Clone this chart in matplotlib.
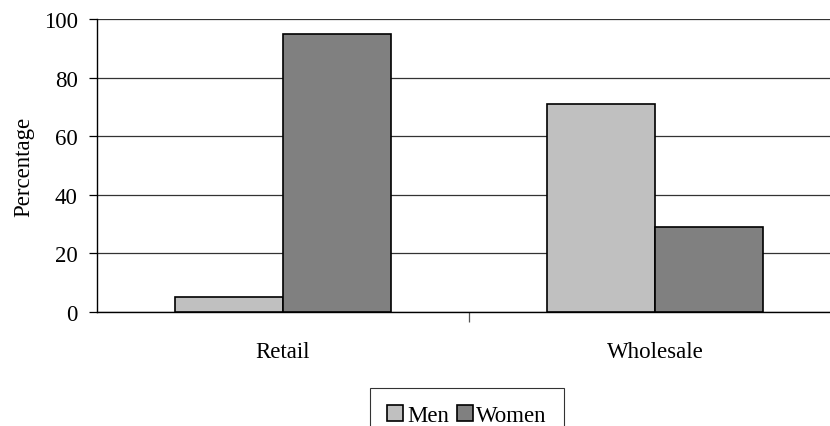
import matplotlib
matplotlib.use("Agg")
import matplotlib.pyplot as plt
import numpy as np

plt.rcParams['font.family'] = ['Liberation Serif', 'DejaVu Serif']

categories = ['Retail', 'Wholesale']
men = [5, 71]
women = [95, 29]
yticks = [0, 20, 40, 60, 80, 100]

fig = plt.figure(figsize=(8.30, 4.27), dpi=100)
# plot area runs off the right edge of the figure
ax = fig.add_axes([97 / 830, 1 - 313 / 427, 744 / 830, 293 / 427])

x = np.arange(len(categories))
w = 0.29
ax.bar(x - w / 2, men, w, color='#c0c0c0', edgecolor='black', linewidth=1.2,
       label='Men', zorder=3)
ax.bar(x + w / 2, women, w, color='#808080', edgecolor='black', linewidth=1.2,
       label='Women', zorder=3)

ax.set_xlim(-0.5, 1.5)
ax.set_ylim(0, 100)
ax.set_yticks(yticks)
ax.yaxis.grid(True, color='#333333', linewidth=0.9, zorder=0)
ax.set_axisbelow(True)

ax.set_xticks(x)
ax.set_xticklabels(categories, fontsize=16.5)
ax.tick_params(axis='x', length=0, pad=21)
ax.set_xticks([0.5], minor=True)
ax.tick_params(axis='x', which='minor', length=7, width=0.9, color='#555555')
ax.tick_params(axis='y', labelsize=16.5, length=6, width=0.9, pad=8)

for s in ['top', 'right']:
    ax.spines[s].set_visible(False)
ax.spines['left'].set_linewidth(1.0)
ax.spines['bottom'].set_linewidth(1.0)

ax.set_ylabel('Percentage', fontsize=16.5)
ax.yaxis.set_label_coords(-(97 - 34) / 744, 0.5)

leg = fig.legend(loc='upper center', bbox_to_anchor=(467 / 830, 1 - 389 / 427),
                 ncol=2, fontsize=16.5, frameon=True, fancybox=False,
                 edgecolor='black', handlelength=0.7, handleheight=0.7,
                 handletextpad=0.15, columnspacing=0.35, borderpad=0.75,
                 borderaxespad=0)
leg.get_frame().set_linewidth(0.8)

fig.savefig('out.png', dpi=100)
